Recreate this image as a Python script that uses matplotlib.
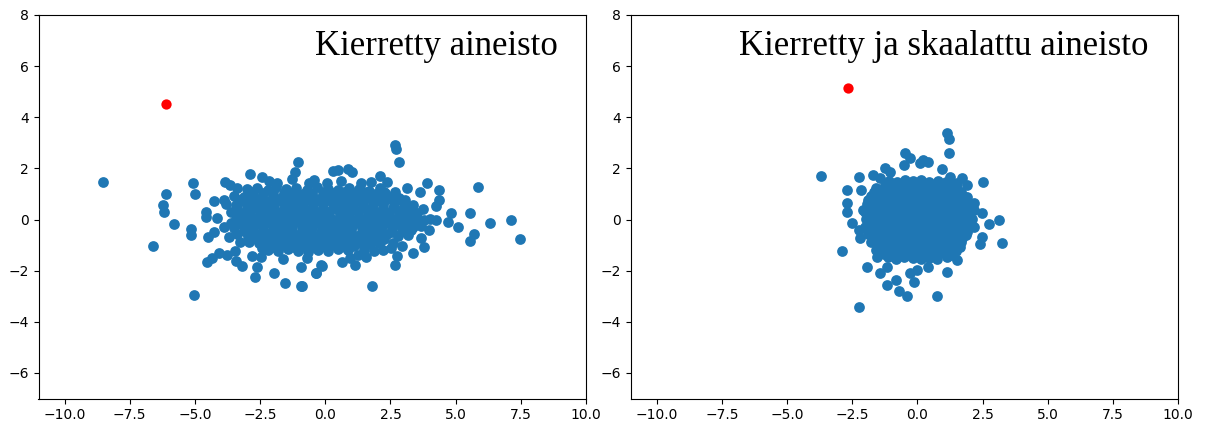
import matplotlib
matplotlib.use("Agg")
import matplotlib.pyplot as plt

# ---------------- data ----------------
# Left panel: rotated data (outer points + dense core)
left_x = [
    -8.52, -5.09, -4.99, -6.12, -6.23, -6.17, -5.80, -6.62, -5.15, -5.15, -5.05, -4.59, -4.57, -4.25,
    -4.48, -4.28, -4.52, -4.35, -4.09, -3.77, -3.48, -3.42, -3.19, -2.68, -2.62, -2.83, -2.46, -1.98,
    -1.54, -0.95, -0.95, -0.35, -0.14, -3.86, -3.64, -3.38, -2.88, -2.41, -1.05, -1.17, -1.27, -0.62,
    0.08, -1.85, -3.90, -4.15, -3.68, -3.26, -2.42,
    2.67, 2.73, 2.82, 0.29, 0.49, 0.88, 1.04, 2.09, 1.77, 1.36, 3.90, 3.13, 3.63, 4.38, 4.35, 4.24,
    2.67, 5.85, 5.56, 6.32, 7.13, 7.45, 5.72, 5.56, 5.08, 4.82, 4.69, 4.24, 3.99, 3.73, 3.79, 3.67,
    3.37, 2.74, 2.67, 2.96, 2.51, 2.06, 1.25, 1.13, 0.65, 1.81, -0.88, -0.15, -0.37, -0.69, 3.15,
    3.28, 2.90, 2.25, 2.19,
    -3.02, -2.63, -2.21, -1.88, -1.52, -1.12, -0.71, -0.33, 0.12, 0.47, 0.91, 1.28, 1.69, 2.08,
    -3.52, -3.11, -2.78, -2.43, -2.01, -1.68, -1.31, -0.93, -0.52, -0.18, 0.22, 0.58, 0.93, 1.31,
    1.72, 2.02, 2.41, 2.83,
    -3.81, -3.42, -3.05, -2.66, -2.32, -1.95, -1.57, -1.22, -0.84, -0.47, -0.09, 0.31, 0.68, 1.07,
    1.45, 1.83, 2.21, 2.62, 3.01, 3.38,
    -3.63, -3.27, -2.88, -2.52, -2.13, -1.77, -1.41, -1.03, -0.66, -0.28, 0.13, 0.51, 0.87, 1.26,
    1.63, 2.02, 2.44, 2.81, 3.22, 3.51,
    -3.42, -3.03, -2.67, -2.29, -1.91, -1.55, -1.18, -0.79, -0.42, -0.04, 0.34, 0.72, 1.11, 1.48,
    1.86, 2.27, 2.63, 3.02, 3.43, 3.78, 4.02,
    -3.88, -3.51, -3.12, -2.76, -2.38, -2.02, -1.63, -1.26, -0.88, -0.51, -0.13, 0.26, 0.63, 1.02,
    1.39, 1.77, 2.16, 2.55, 2.93, 3.36, 3.68,
    -3.37, -2.98, -2.61, -2.22, -1.86, -1.47, -1.09, -0.72, -0.31, 0.05, 0.43, 0.82, 1.21, 1.58,
    1.96, 2.37, 2.78, 3.17,
    -2.91, -2.53, -2.14, -1.77, -1.38, -1.02, -0.63, -0.24, 0.17, 0.54, 0.93, 1.32, 1.71, 2.11, 2.58,
    -2.18, -1.81, -1.43, -1.04, -0.66, -0.28, 0.11, 0.49, 0.88, 1.47, 1.86, 2.21,
    -3.25, -2.15, -0.45, 0.62, 1.55, 2.35, -1.62, 0.95, -2.95, 3.05,
]
left_y = [
    1.48, 1.44, 0.99, 1.00, 0.55, 0.28, -0.18, -1.05, -0.37, -0.62, -2.97, 0.31, 0.11, 0.72,
    -0.67, -0.48, -1.65, -1.52, -1.32, -1.39, -1.22, -1.62, -1.82, -2.24, -1.85, -1.43, -1.48, -2.10,
    -2.50, -2.59, -1.85, -2.10, -1.80, 1.48, 1.35, 1.22, 1.77, 1.65, 2.25, 1.87, 1.58, 1.44,
    1.42, 1.42, 0.76, 0.05, -0.67, -0.87, -1.10,
    2.91, 2.74, 2.24, 1.91, 1.94, 1.96, 1.85, 1.70, 1.48, 1.42, 1.44, 1.22, 1.09, 1.15, 0.76, 0.53,
    1.09, 1.26, 0.27, -0.12, 0.00, -0.76, -0.57, -0.83, -0.31, 0.27, -0.08, 0.00, -0.41, 0.40, -1.09, -0.74,
    -1.32, -1.43, -1.78, -1.04, -1.13, -0.93, -1.39, -1.78, -1.67, -2.59, -2.59, -1.78, -2.10, -1.52, 0.37,
    -0.41, 0.05, 1.09, 0.70,
    1.18, 1.24, 1.15, 1.26, 1.19, 1.23, 1.14, 1.27, 1.21, 1.16, 1.25, 1.20, 1.13, 1.22,
    0.92, 0.87, 0.94, 0.88, 0.91, 0.85, 0.93, 0.89, 0.95, 0.86, 0.92, 0.88, 0.94, 0.90,
    0.87, 0.93, 0.89, 0.84,
    0.62, 0.57, 0.63, 0.58, 0.61, 0.55, 0.64, 0.59, 0.62, 0.56, 0.63, 0.60, 0.57, 0.64,
    0.58, 0.61, 0.55, 0.63, 0.59, 0.57,
    0.31, 0.27, 0.33, 0.28, 0.32, 0.26, 0.30, 0.34, 0.27, 0.31, 0.29, 0.33, 0.26, 0.32,
    0.28, 0.31, 0.27, 0.33, 0.29, 0.26,
    0.02, -0.03, 0.04, -0.01, 0.03, -0.04, 0.01, 0.05, -0.02, 0.03, -0.03, 0.02, -0.01, 0.04,
    -0.02, 0.01, 0.03, -0.04, 0.02, -0.01, 0.03,
    -0.28, -0.33, -0.27, -0.31, -0.26, -0.32, -0.29, -0.34, -0.27, -0.30, -0.33, -0.28, -0.31, -0.26,
    -0.32, -0.29, -0.27, -0.33, -0.30, -0.28, -0.26,
    -0.58, -0.63, -0.57, -0.61, -0.64, -0.59, -0.62, -0.56, -0.63, -0.58, -0.61, -0.57, -0.64, -0.60,
    -0.62, -0.58, -0.63, -0.59,
    -0.88, -0.93, -0.87, -0.91, -0.94, -0.89, -0.92, -0.86, -0.93, -0.88, -0.91, -0.87, -0.94, -0.89, -0.92,
    -1.18, -1.23, -1.17, -1.22, -1.26, -1.19, -1.24, -1.16, -1.21, -1.18, -1.25, -1.20,
    -0.12, 1.50, 1.55, 1.52, -1.45, 1.48, -1.55, -1.50, -0.15, 0.75,
]
# Left panel: extra core points between the rows above
left_core_x = [
    -2.80, -2.40, -2.00, -1.60, -1.20, -0.85, -0.50, -0.10, 0.30, 0.70, 1.10, 1.50, 1.90, 2.30,
    -3.30, -2.90, -2.50, -2.15, -1.80, -1.45, -1.10, -0.70, -0.35, 0.05, 0.40, 0.80, 1.15, 1.50,
    1.90, 2.25, 2.60, 3.00,
    -3.40, -3.00, -2.70, -2.35, -1.95, -1.60, -1.25, -0.85, -0.50, -0.10, 0.30, 0.70, 1.05, 1.45,
    1.80, 2.20, 2.60, 3.00,
    -3.20, -2.85, -2.45, -2.10, -1.70, -1.35, -0.95, -0.60, -0.20, 0.15, 0.55, 0.90, 1.30, 1.70,
    2.10, 2.45, 2.85, 3.30,
    -3.60, -3.20, -2.85, -2.50, -2.10, -1.75, -1.40, -1.00, -0.60, -0.25, 0.15, 0.50, 0.90, 1.30,
    1.65, 2.05, 2.45, 2.80, 3.20,
    -3.10, -2.80, -2.40, -2.05, -1.70, -1.30, -0.90, -0.55, -0.15, 0.25, 0.60, 1.00, 1.40, 1.80,
    2.15, 2.55, 2.95,
    -2.70, -2.35, -1.95, -1.60, -1.20, -0.85, -0.45, -0.05, 0.35, 0.70, 1.10, 1.50, 1.85, 2.25,
    -2.30, -1.95, -1.55, -1.20, -0.80, -0.45, -0.05, 0.35, 0.75, 1.10, 1.50,
]
left_core_y = [
    1.06, 1.02, 1.08, 1.03, 1.07, 1.01, 1.05, 1.09, 1.02, 1.06, 1.04, 1.08, 1.01, 1.05,
    0.76, 0.72, 0.78, 0.73, 0.77, 0.71, 0.75, 0.79, 0.72, 0.76, 0.74, 0.78, 0.71, 0.75,
    0.77, 0.73, 0.76, 0.72,
    0.46, 0.42, 0.48, 0.43, 0.47, 0.41, 0.45, 0.49, 0.42, 0.46, 0.44, 0.48, 0.41, 0.45,
    0.47, 0.43, 0.46, 0.42,
    0.16, 0.12, 0.18, 0.13, 0.17, 0.11, 0.15, 0.19, 0.12, 0.16, 0.14, 0.18, 0.11, 0.15,
    0.17, 0.13, 0.16, 0.12,
    -0.14, -0.18, -0.12, -0.17, -0.13, -0.19, -0.15, -0.11, -0.18, -0.14, -0.16, -0.12, -0.19, -0.15,
    -0.13, -0.17, -0.14, -0.18, -0.16,
    -0.44, -0.48, -0.42, -0.47, -0.43, -0.49, -0.45, -0.41, -0.48, -0.44, -0.46, -0.42, -0.49, -0.45,
    -0.43, -0.47, -0.44,
    -0.74, -0.78, -0.72, -0.77, -0.73, -0.79, -0.75, -0.71, -0.78, -0.74, -0.76, -0.72, -0.79, -0.75,
    -1.04, -1.08, -1.02, -1.07, -1.03, -1.09, -1.05, -1.01, -1.08, -1.04, -1.06,
]
left_red_x = [-6.10]
left_red_y = [4.52]

# Right panel: rotated and scaled data (outer points + dense core)
right_x = [
    -3.71, -2.24, -2.89, 1.15, 1.22, 1.22, -0.47, 2.53, 3.11, 3.24, 2.75, 2.47, 2.47, 2.40,
    0.76, -0.42, -0.70, -1.16, -0.84, -0.13, 1.12, -1.95, -1.44, -2.72, -2.18, -2.25, -2.72, -2.72,
    -2.53, -2.25, -2.21, -1.70, -1.25, -0.52, 0.10, 0.42, 0.93, 1.70, 1.89, 1.89, 2.15, 1.63, 1.51, 0.42,
    -1.57, -1.16, -0.29, -0.03, -2.08, -1.89, -1.83, 2.15, 1.89, 2.15, 1.76, 1.51, 1.25, -1.06, -1.44,
    -0.29, 0.22,
    -1.08, -0.78, -0.47, -0.16, 0.14, 0.46, 0.77, 1.09,
    -1.58, -1.27, -0.96, -0.64, -0.33, -0.02, 0.29, 0.61, 0.92, 1.23, 1.51,
    -1.79, -1.48, -1.17, -0.86, -0.54, -0.23, 0.08, 0.39, 0.71, 1.02, 1.33, 1.64, 1.82,
    -1.92, -1.61, -1.29, -0.98, -0.67, -0.36, -0.04, 0.27, 0.58, 0.89, 1.21, 1.52, 1.87,
    -2.01, -1.71, -1.39, -1.08, -0.77, -0.45, -0.14, 0.18, 0.49, 0.80, 1.12, 1.43, 1.74, 2.02,
    -1.98, -1.66, -1.35, -1.03, -0.72, -0.41, -0.09, 0.22, 0.53, 0.85, 1.16, 1.48, 1.79, 2.08,
    -2.02, -1.71, -1.40, -1.08, -0.77, -0.46, -0.14, 0.17, 0.48, 0.80, 1.11, 1.42, 1.73, 1.98,
    -1.88, -1.57, -1.26, -0.94, -0.63, -0.32, -0.01, 0.31, 0.62, 0.93, 1.25, 1.56, 1.86,
    -1.77, -1.46, -1.15, -0.83, -0.52, -0.21, 0.11, 0.42, 0.73, 1.04, 1.36, 1.68,
    -1.58, -1.27, -0.96, -0.64, -0.33, -0.02, 0.29, 0.61, 0.92, 1.22, 1.48,
    -1.13, -0.81, -0.50, -0.19, 0.13, 0.44, 0.76, 1.12,
]
right_y = [
    1.70, -3.41, -1.22, 3.37, 3.15, 2.59, 2.59, 1.48, 0.00, -0.93, -0.18, 0.27, -0.67, -0.96,
    -2.98, -2.98, -2.80, -2.56, -2.37, -2.43, -2.04, -1.85, -2.10, 1.15, 1.15, 1.65, 0.63, 0.31,
    -0.15, -0.41, -0.74, 1.74, 2.00, 2.13, 2.20, 2.26, 1.96, 1.61, 1.35, 0.89, 0.37, -1.06, -1.58, -1.85,
    -1.45, -1.85, -2.10, -1.99, 0.37, 0.76, 0.00, 0.63, -0.41, -0.28, -0.02, 1.42, 1.67, 1.87, 1.61,
    2.39, 2.33,
    1.52, 1.47, 1.55, 1.49, 1.53, 1.46, 1.51, 1.48,
    1.22, 1.18, 1.25, 1.19, 1.23, 1.17, 1.24, 1.20, 1.16, 1.23, 1.19,
    0.92, 0.87, 0.94, 0.89, 0.91, 0.86, 0.93, 0.88, 0.95, 0.90, 0.87, 0.92, 0.89,
    0.61, 0.57, 0.63, 0.58, 0.62, 0.56, 0.64, 0.59, 0.61, 0.57, 0.63, 0.58, 0.60,
    0.31, 0.27, 0.33, 0.28, 0.32, 0.26, 0.30, 0.34, 0.27, 0.31, 0.29, 0.33, 0.26, 0.30,
    0.02, -0.03, 0.04, -0.01, 0.03, -0.04, 0.01, 0.05, -0.02, 0.03, -0.03, 0.02, -0.01, 0.04,
    -0.28, -0.33, -0.27, -0.31, -0.26, -0.32, -0.29, -0.34, -0.27, -0.30, -0.33, -0.28, -0.31, -0.26,
    -0.58, -0.63, -0.57, -0.61, -0.64, -0.59, -0.62, -0.56, -0.63, -0.58, -0.61, -0.57, -0.62,
    -0.88, -0.93, -0.87, -0.91, -0.94, -0.89, -0.92, -0.86, -0.93, -0.88, -0.91, -0.87,
    -1.18, -1.23, -1.17, -1.22, -1.26, -1.19, -1.24, -1.16, -1.21, -1.18, -1.25,
    -1.48, -1.53, -1.47, -1.52, -1.55, -1.49, -1.54, -1.46,
]
# Right panel: extra core points between the rows above
right_core_x = [
    -1.25, -0.90, -0.60, -0.30, 0.00, 0.30, 0.60, 0.95, 1.25,
    -1.65, -1.35, -1.05, -0.75, -0.45, -0.15, 0.15, 0.45, 0.75, 1.05, 1.35, 1.65,
    -1.85, -1.55, -1.25, -0.95, -0.65, -0.35, -0.05, 0.25, 0.55, 0.85, 1.15, 1.45, 1.75,
    -1.90, -1.60, -1.30, -1.00, -0.70, -0.40, -0.10, 0.20, 0.50, 0.80, 1.10, 1.40, 1.70, 1.95,
    -1.85, -1.55, -1.25, -0.95, -0.60, -0.30, 0.00, 0.35, 0.65, 0.95, 1.30, 1.60, 1.90,
    -1.85, -1.55, -1.20, -0.90, -0.60, -0.30, 0.05, 0.35, 0.65, 0.95, 1.25, 1.55, 1.85,
    -1.80, -1.50, -1.20, -0.90, -0.55, -0.25, 0.05, 0.35, 0.70, 1.00, 1.30, 1.60, 1.90,
    -1.70, -1.40, -1.10, -0.80, -0.50, -0.15, 0.15, 0.45, 0.80, 1.10, 1.40, 1.70,
    -1.50, -1.20, -0.90, -0.60, -0.30, 0.00, 0.30, 0.60, 0.90, 1.20, 1.50,
    -1.30, -1.00, -0.70, -0.35, 0.00, 0.35, 0.70, 1.00, 1.30,
]
right_core_y = [
    1.36, 1.33, 1.38, 1.34, 1.37, 1.32, 1.36, 1.39, 1.33,
    1.06, 1.02, 1.08, 1.03, 1.07, 1.01, 1.05, 1.09, 1.02, 1.06, 1.04, 1.08,
    0.76, 0.72, 0.78, 0.73, 0.77, 0.71, 0.75, 0.79, 0.72, 0.76, 0.74, 0.78, 0.71,
    0.46, 0.42, 0.48, 0.43, 0.47, 0.41, 0.45, 0.49, 0.42, 0.46, 0.44, 0.48, 0.41, 0.45,
    0.16, 0.12, 0.18, 0.13, 0.17, 0.11, 0.15, 0.19, 0.12, 0.16, 0.14, 0.18, 0.11,
    -0.14, -0.18, -0.12, -0.17, -0.13, -0.19, -0.15, -0.11, -0.18, -0.14, -0.16, -0.12, -0.19,
    -0.44, -0.48, -0.42, -0.47, -0.43, -0.49, -0.45, -0.41, -0.48, -0.44, -0.46, -0.42, -0.49,
    -0.74, -0.78, -0.72, -0.77, -0.73, -0.79, -0.75, -0.71, -0.78, -0.74, -0.76, -0.72,
    -1.04, -1.08, -1.02, -1.07, -1.03, -1.09, -1.05, -1.01, -1.08, -1.04, -1.06,
    -1.34, -1.38, -1.32, -1.37, -1.33, -1.39, -1.35, -1.31, -1.38,
]
right_red_x = [-2.66]
right_red_y = [5.13]

titles = ["Kierretty aineisto", "Kierretty ja skaalattu aineisto"]
xticks = [-10.0, -7.5, -5.0, -2.5, 0.0, 2.5, 5.0, 7.5, 10.0]
yticks = [-6, -4, -2, 0, 2, 4, 6, 8]

# ---------------- figure ----------------
W, H = 1205, 423
fig = plt.figure(figsize=(W / 100, H / 100), dpi=100)
ax_w, ax_h = 547.5 / W, 383.5 / H
bottom = (H - 398.5) / H
ax1 = fig.add_axes([38.5 / W, bottom, ax_w, ax_h])
ax2 = fig.add_axes([630.7 / W, bottom, ax_w, ax_h])

panels = [
    (ax1, left_x + left_core_x, left_y + left_core_y, left_red_x, left_red_y, titles[0], 0.949),
    (ax2, right_x + right_core_x, right_y + right_core_y, right_red_x, right_red_y, titles[1], 0.945),
]
for ax, xs, ys, rx, ry, title, tx in panels:
    ax.scatter(xs, ys, s=60, color="#1f77b4", linewidths=0, zorder=2)
    ax.scatter(rx, ry, s=55, color="red", linewidths=0, zorder=3)
    ax.set_xlim(-11, 10)
    ax.set_ylim(-7, 8)
    ax.set_xticks(xticks)
    ax.set_xticklabels([f"{t:.1f}".replace("-", "\u2212") for t in xticks])
    ax.set_yticks(yticks)
    ax.set_yticklabels([f"{t}".replace("-", "\u2212") for t in yticks])
    ax.tick_params(labelsize=10)
    ax.text(tx, 0.896, title, transform=ax.transAxes, ha="right", va="baseline",
            fontsize=25, family="Liberation Serif", color="black")

fig.savefig("out.png", dpi=100)
